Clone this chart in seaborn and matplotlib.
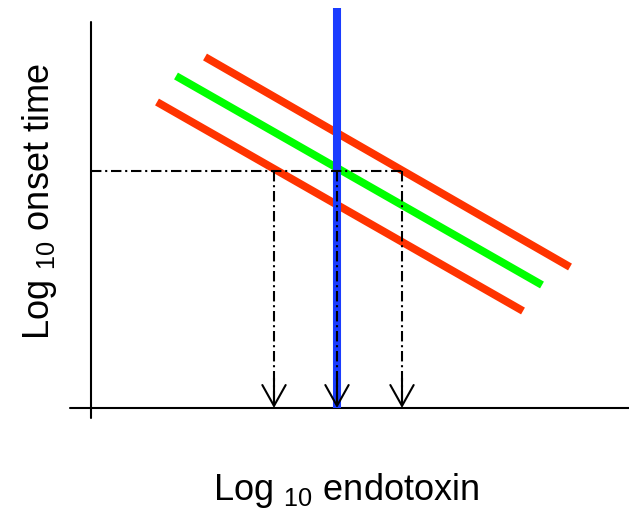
import numpy as np
import pandas as pd
import matplotlib.pyplot as plt
import seaborn as sns

# -----------------------------
# Schematic data (origin = axes crossing)
# -----------------------------
line_names = ["upper", "middle", "lower"]
line_x_start = [114, 85, 66]
line_y_start = [351, 332, 306]
line_x_end = [479, 451, 432]
line_y_end = [141, 123, 97]
line_colors = {"upper": "#ff3300", "middle": "#00ff00", "lower": "#ff3300"}

sample_x = 246           # blue vertical (sample endotoxin level)
sample_top = 400
read_level = 237         # onset time read on the y axis
drop_x = [183, 246, 311]  # where the read level hits each line

x_axis_range = [-21, 538]
y_axis_range = [-10, 386]

df = pd.DataFrame({
    "name": line_names * 2,
    "x": line_x_start + line_x_end,
    "y": line_y_start + line_y_end,
})

# -----------------------------
# Plot
# -----------------------------
sns.set_style("white")
plt.rcParams["font.family"] = ["Liberation Sans", "DejaVu Sans"]
plt.rcParams["mathtext.default"] = "regular"

fig = plt.figure(figsize=(6.29, 5.17), dpi=100)
ax = fig.add_axes([0, 0, 1, 1])
ax.set_xlim(-91, 538)
ax.set_ylim(-109, 408)
ax.axis("off")

# axes
ax.plot(x_axis_range, [0, 0], color="black", lw=1.5, zorder=1)
ax.plot([0, 0], y_axis_range, color="black", lw=1.5, zorder=1)

sns.lineplot(data=df, x="x", y="y", hue="name", palette=line_colors,
             linewidth=5.6, legend=False, ax=ax, solid_capstyle="butt",
             sort=False, estimator=None, units="name", zorder=2)

ax.plot([sample_x, sample_x], [0, sample_top], color="#1a3cff", lw=5.8,
        solid_capstyle="butt", zorder=3)

dash = (0, (5, 1.8, 1, 1.8))
ax.plot([0, max(drop_x)], [read_level, read_level], color="black",
        lw=1.5, linestyle=dash, zorder=4)
for xd in drop_x:
    ax.plot([xd, xd], [read_level, 3], color="black", lw=1.5,
            linestyle=dash, zorder=4)
    ax.annotate("", xy=(xd, 0), xytext=(xd, 30),
                arrowprops=dict(arrowstyle="->,head_length=0.75,head_width=0.42",
                                color="black", lw=1.5, mutation_scale=20,
                                shrinkA=0, shrinkB=0),
                zorder=5)

fig.text(346 / 629, 1 - 490 / 517, r"Log $_{10}$ endotoxin", fontsize=26,
         ha="center", va="center", color="black")
fig.text(40 / 629, 1 - 202 / 517, r"Log $_{10}$ onset time", fontsize=26,
         ha="center", va="center", rotation=90, color="black")

fig.savefig("out.png", dpi=100)
plt.close(fig)
